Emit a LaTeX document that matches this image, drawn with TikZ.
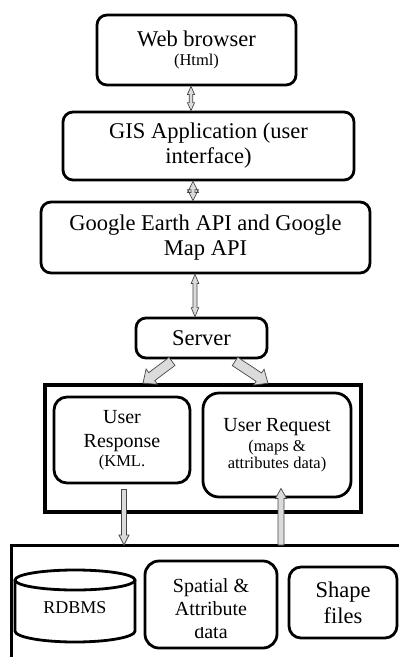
\documentclass[tikz,border=0pt]{standalone}
\usepackage{fontspec}
\setmainfont{Liberation Serif}
\usetikzlibrary{calc}

\tikzset{
  box/.style={draw, line width=2.8pt, rounded corners=10pt, align=center, inner sep=0pt,
              font=\fontsize{22.5}{25}\selectfont},
  midbox/.style={box, rounded corners=13pt, font=\fontsize{20}{24}\selectfont},
  frame/.style={draw, line width=3.6pt},
  label/.style={inner sep=0pt, align=center},
  blk/.style={fill=gray!28, draw=gray!55!black, line width=0.7pt, line join=miter},
}
\newcommand\smalltag[1]{{\fontsize{16.5}{18}\selectfont #1}}

% single-headed block arrow: start, end, shaft half width, head half width, head length
\newcommand\onearrow[5]{%
  \coordinate (oa-s) at (#1);
  \coordinate (oa-e) at (#2);
  \coordinate (oa-h) at ($(oa-e)!#5!(oa-s)$);
  \filldraw[blk] ($(oa-s)!#3!90:(oa-e)$) -- ($(oa-h)!#3!-90:(oa-s)$)
     -- ($(oa-h)!#4!-90:(oa-s)$) -- (oa-e) -- ($(oa-h)!#4!90:(oa-s)$)
     -- ($(oa-h)!#3!90:(oa-s)$) -- ($(oa-s)!#3!-90:(oa-e)$) -- cycle;
}
% double-headed block arrow with the same arguments
\newcommand\twoarrow[5]{%
  \coordinate (ta-s) at (#1);
  \coordinate (ta-e) at (#2);
  \coordinate (ta-h) at ($(ta-e)!#5!(ta-s)$);
  \coordinate (ta-g) at ($(ta-s)!#5!(ta-e)$);
  \filldraw[blk] (ta-s) -- ($(ta-g)!#4!90:(ta-e)$) -- ($(ta-g)!#3!90:(ta-e)$)
     -- ($(ta-h)!#3!-90:(ta-s)$) -- ($(ta-h)!#4!-90:(ta-s)$) -- (ta-e)
     -- ($(ta-h)!#4!90:(ta-s)$) -- ($(ta-h)!#3!90:(ta-s)$)
     -- ($(ta-g)!#3!-90:(ta-e)$) -- ($(ta-g)!#4!-90:(ta-e)$) -- cycle;
}

\begin{document}
\begin{tikzpicture}[x=1pt, y=-1pt]
\useasboundingbox (0,0) rectangle (399,657);
\fill[white] (0,0) rectangle (399,657);

% client side
\node[box, minimum width=199pt, minimum height=70pt] (web) at (196.5,50)
  {Web browser\\[-6pt]\smalltag{(Html)}};
\node[box, minimum width=291pt, minimum height=68pt] (gis) at (208.5,146)
  {GIS Application (user\\interface)};
\node[box, minimum width=329pt, minimum height=71pt] (google) at (205.5,237.5)
  {Google Earth API and Google\\Map API};
\node[box, minimum width=131pt, minimum height=40pt] (server) at (201.5,338) {Server};

% request / response block
\node[frame, minimum width=316pt, minimum height=127pt] (mid) at (203,448.5) {};
\node[midbox, minimum width=136pt, minimum height=86pt] (resp) at (122,440)
  {User\\Response\\[-5pt]\smalltag{(KML.}};
\node[midbox, rounded corners=16pt, minimum width=148pt, minimum height=104pt] (req) at (277,445)
  {User Request\\[-4pt]\smalltag{(maps \&}\\[-7pt]\smalltag{attributes data)}};

% data store
\coordinate (store) at (11,545);
\draw[line width=3pt] (401,545) -- (store) -- (11,659);

\draw[line width=2.8pt] (15,580) -- (15,631) arc[start angle=180, end angle=360, x radius=60pt, y radius=11pt]
  -- (135,580);
\draw[line width=2.8pt] (75,580) ellipse[x radius=60pt, y radius=10pt];
\node[label, font=\fontsize{18}{20}\selectfont] (rdbms) at (75,608) {RDBMS};

\node[box, rounded corners=14pt, minimum width=132pt, minimum height=87pt] (spatial) at (211,604.5) {};
\node[label, anchor=base, font=\fontsize{20}{22.5}\selectfont] (spatialtxt) at (211,615)
  {Spatial \&\\Attribute};
\begin{scope}
  \clip (146,627) rectangle (276,646);
  \node[label, anchor=base, font=\fontsize{20}{22.5}\selectfont] (spatialdata) at (211,638) {data};
\end{scope}

\node[box, rounded corners=12pt, minimum width=108pt, minimum height=71pt,
      font=\fontsize{22.5}{26}\selectfont] (shape) at (343,602.5) {Shape\\files};

% connectors
\twoarrow{[xshift=-5.5pt]web.south}{[xshift=-17.5pt]gis.north}{1.8pt}{3.6pt}{8pt}
\twoarrow{[xshift=-15.5pt]gis.south}{[xshift=-12.5pt]google.north}{2pt}{5.5pt}{11pt}
\twoarrow{[xshift=-10.5pt]google.south}{[xshift=-6.5pt]server.north}{2pt}{3.8pt}{9pt}

\onearrow{[xshift=-29.5pt,yshift=-2pt]server.south}{[xshift=-60pt]mid.north}{5pt}{9.5pt}{11pt}
\onearrow{[xshift=33.5pt,yshift=-2pt]server.south}{[xshift=65pt]mid.north}{5pt}{9.5pt}{11pt}

\coordinate (respout) at ([xshift=2pt,yshift=-5pt]resp.south);
\coordinate (respin) at (respout |- store);
\onearrow{respout}{respin}{2.5pt}{5pt}{10pt}

\coordinate (reqin) at ([xshift=4pt,yshift=10pt]req.south);
\coordinate (reqout) at (reqin |- store);
\onearrow{reqout}{reqin}{3pt}{5.5pt}{10pt}
\end{tikzpicture}
\end{document}
